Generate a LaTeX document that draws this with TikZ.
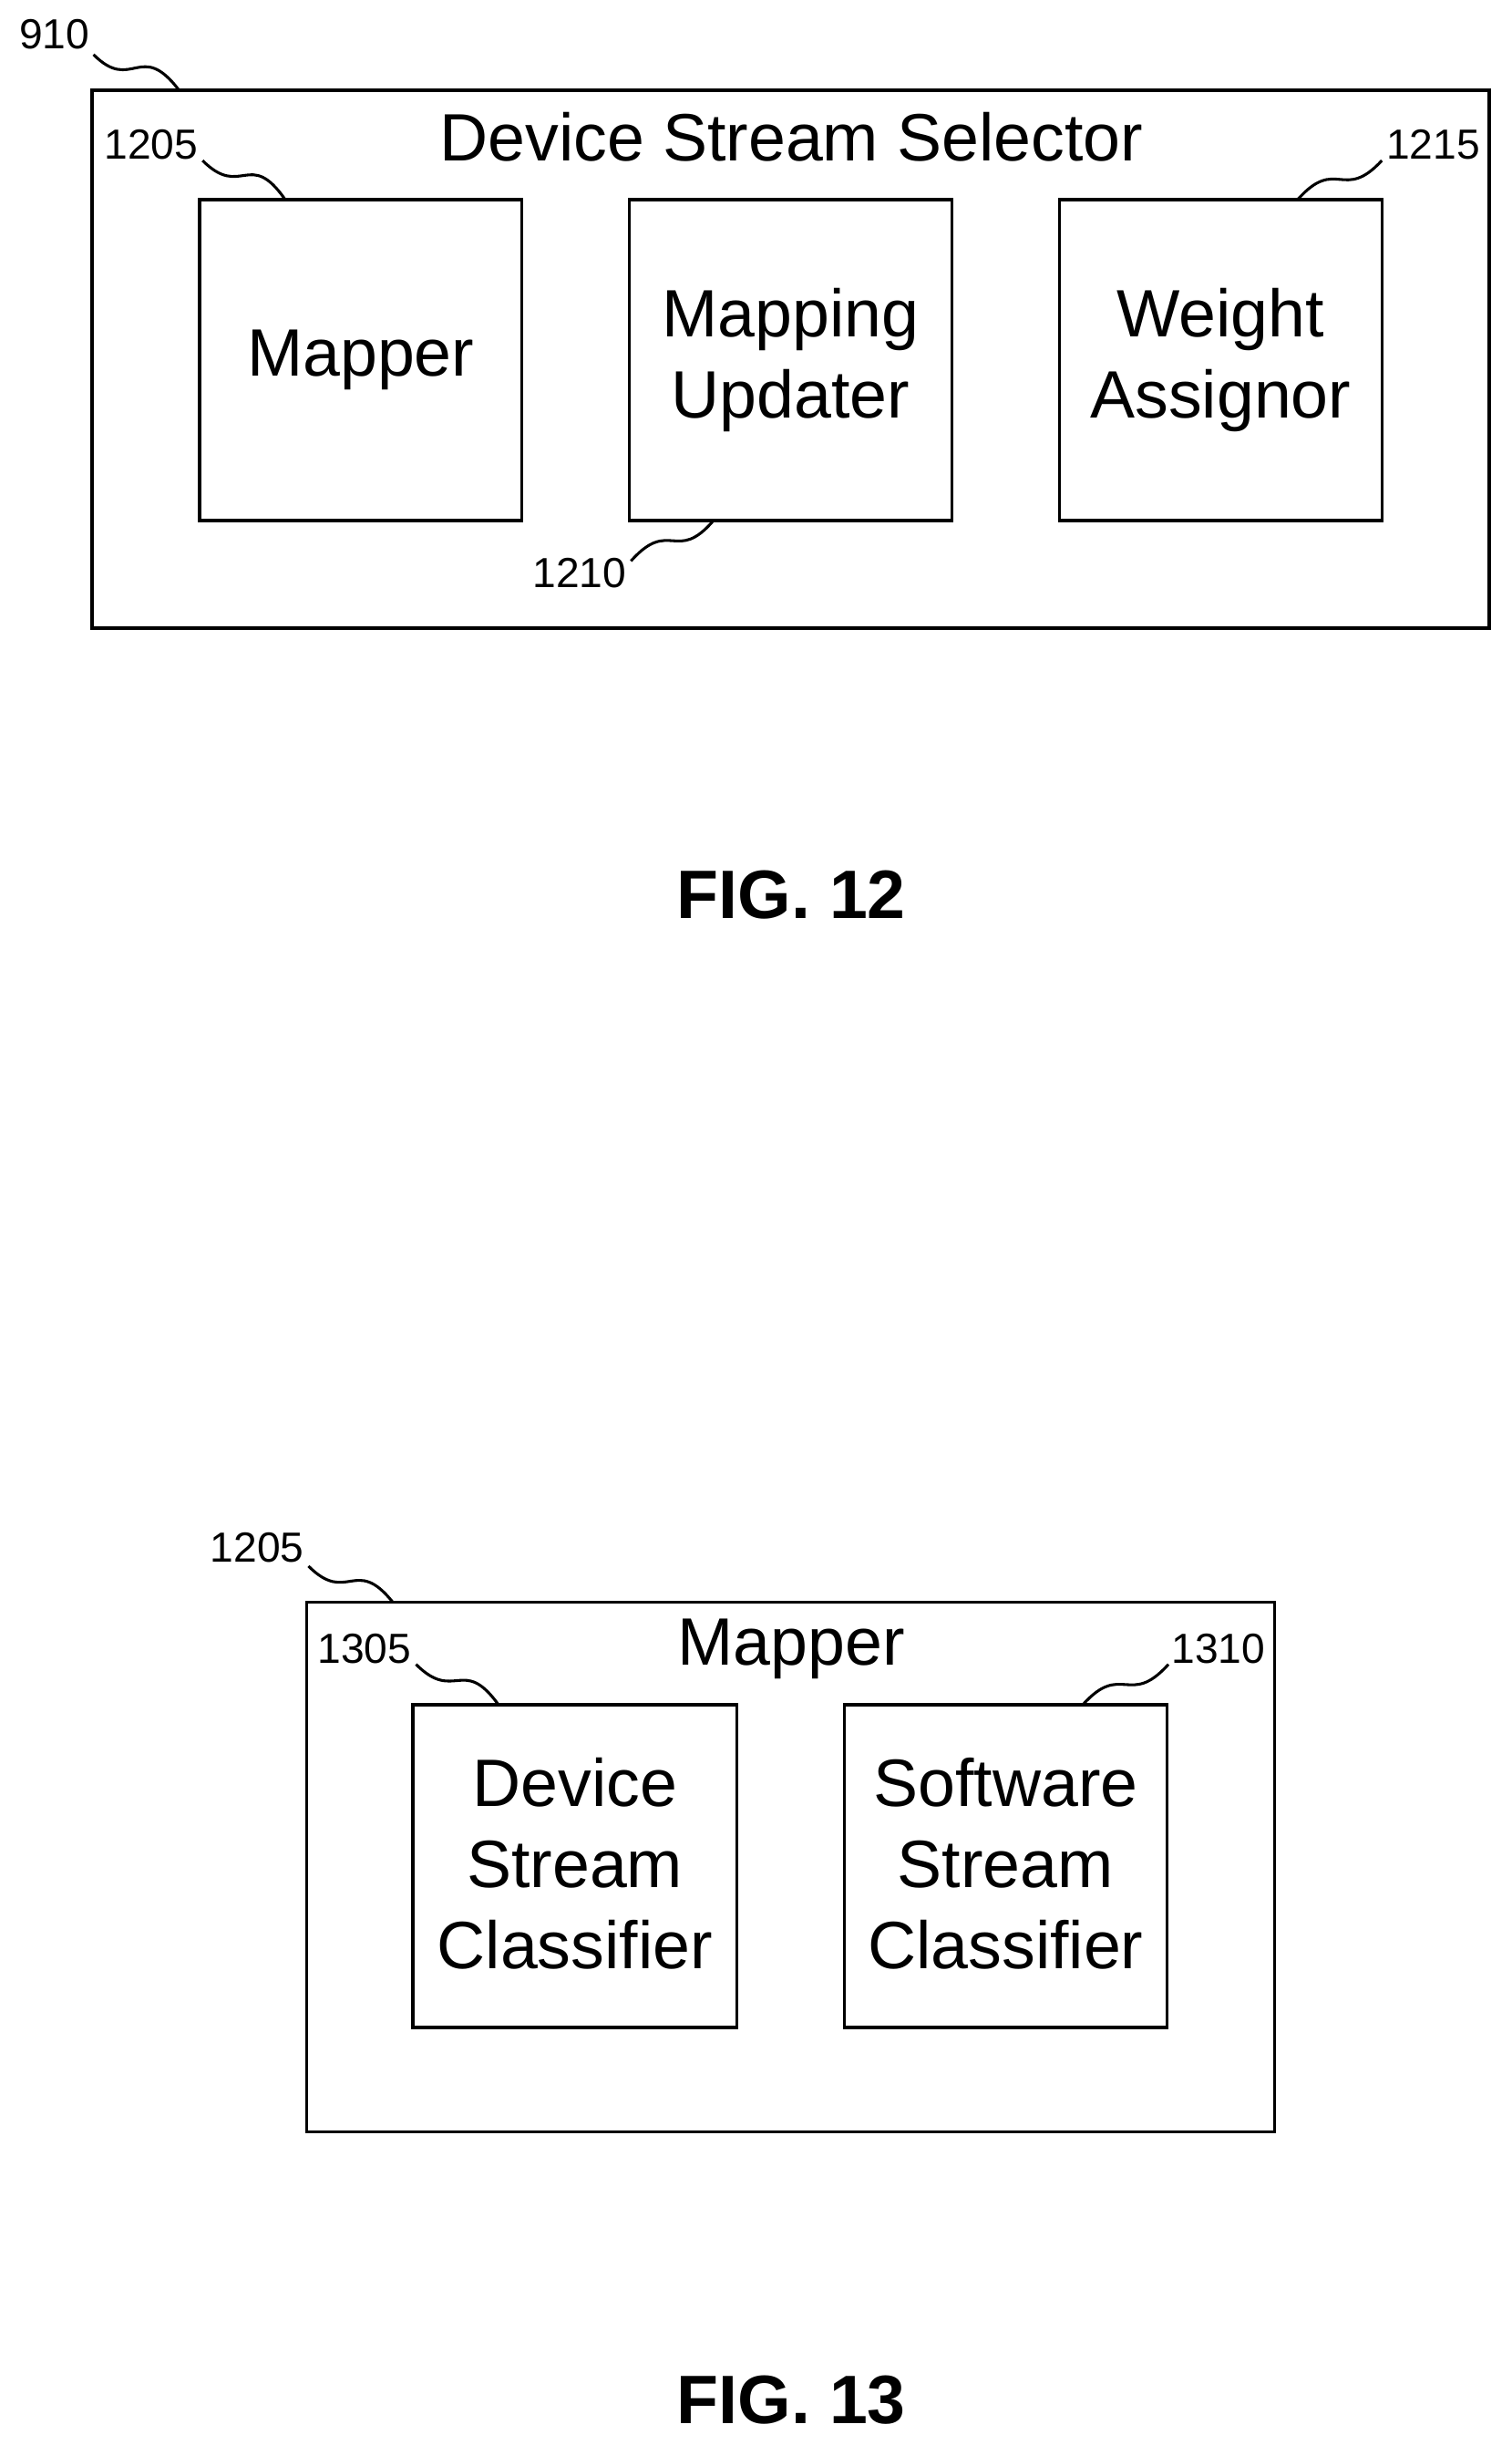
\documentclass[tikz,border=0pt]{standalone}
\usepackage{fontspec}
\setmainfont{Liberation Sans}
\usetikzlibrary{calc}
\begin{document}
\begin{tikzpicture}[x=0.5pt,y=-0.5pt,
  box/.style={draw,line width=1pt,inner sep=0pt},
  big/.style={font=\fontsize{21.5}{26}\selectfont,align=center},
  lbl/.style={font=\fontsize{13.5}{15}\selectfont,inner sep=1pt},
  fig/.style={font=\bfseries\fontsize{22}{26}\selectfont},
  sq/.style={line width=0.9pt}]
\useasboundingbox (0,0) rectangle (970,1569);
% FIG 12
\draw[box] (59,58) rectangle (956,403) coordinate (o12);
\node[big] (t12) at (508,88) {Device Stream Selector};
\draw[box] (128,128) coordinate (ma) rectangle (335,334);
\node[big] (mapper) at (231.5,231) {Mapper};
\draw[box] (404,128) rectangle (611,334);
\node[big] (upd) at (507.5,231) {Mapping\\Updater};
\draw[box] (680,128) rectangle (887,334);
\node[big] (wa) at (783.5,231) {Weight\\Assignor};
\node[lbl] (l910) at (35,22) {910};
\node[lbl] (l1205) at (97,93) {1205};
\node[lbl] (l1215) at (920,93) {1215};
\node[lbl] (l1210) at (372,368) {1210};
\node[fig] (f12) at (508,574) {FIG. 12};
\draw[sq] (60,35) .. controls (85,60) and (90,25) .. (115,58);
\draw[sq] (130,103) .. controls (155,128) and (160,95) .. (183,128);
\draw[sq] (833,128) .. controls (858,100) and (862,130) .. (887,103);
\draw[sq] (405,360) .. controls (430,332) and (434,362) .. (458,334);
% FIG 13
\draw[box] (197,1028) rectangle (818,1368);
\node[big] (t13) at (508,1058) {Mapper};
\draw[box] (265,1094) rectangle (473,1301);
\node[big] (dsc) at (369,1196) {Device\\Stream\\Classifier};
\draw[box] (542,1094) rectangle (749,1301);
\node[big] (ssc) at (645.5,1196) {Software\\Stream\\Classifier};
\node[lbl] (m1205) at (165,993) {1205};
\node[lbl] (l1305) at (234,1058) {1305};
\node[lbl] (l1310) at (782,1058) {1310};
\node[fig] (f13) at (508,1540) {FIG. 13};
\draw[sq] (198,1005) .. controls (223,1030) and (228,998) .. (252,1028);
\draw[sq] (267,1068) .. controls (292,1093) and (297,1062) .. (320,1094);
\draw[sq] (695,1094) .. controls (720,1066) and (725,1096) .. (750,1068);
\end{tikzpicture}
\end{document}
